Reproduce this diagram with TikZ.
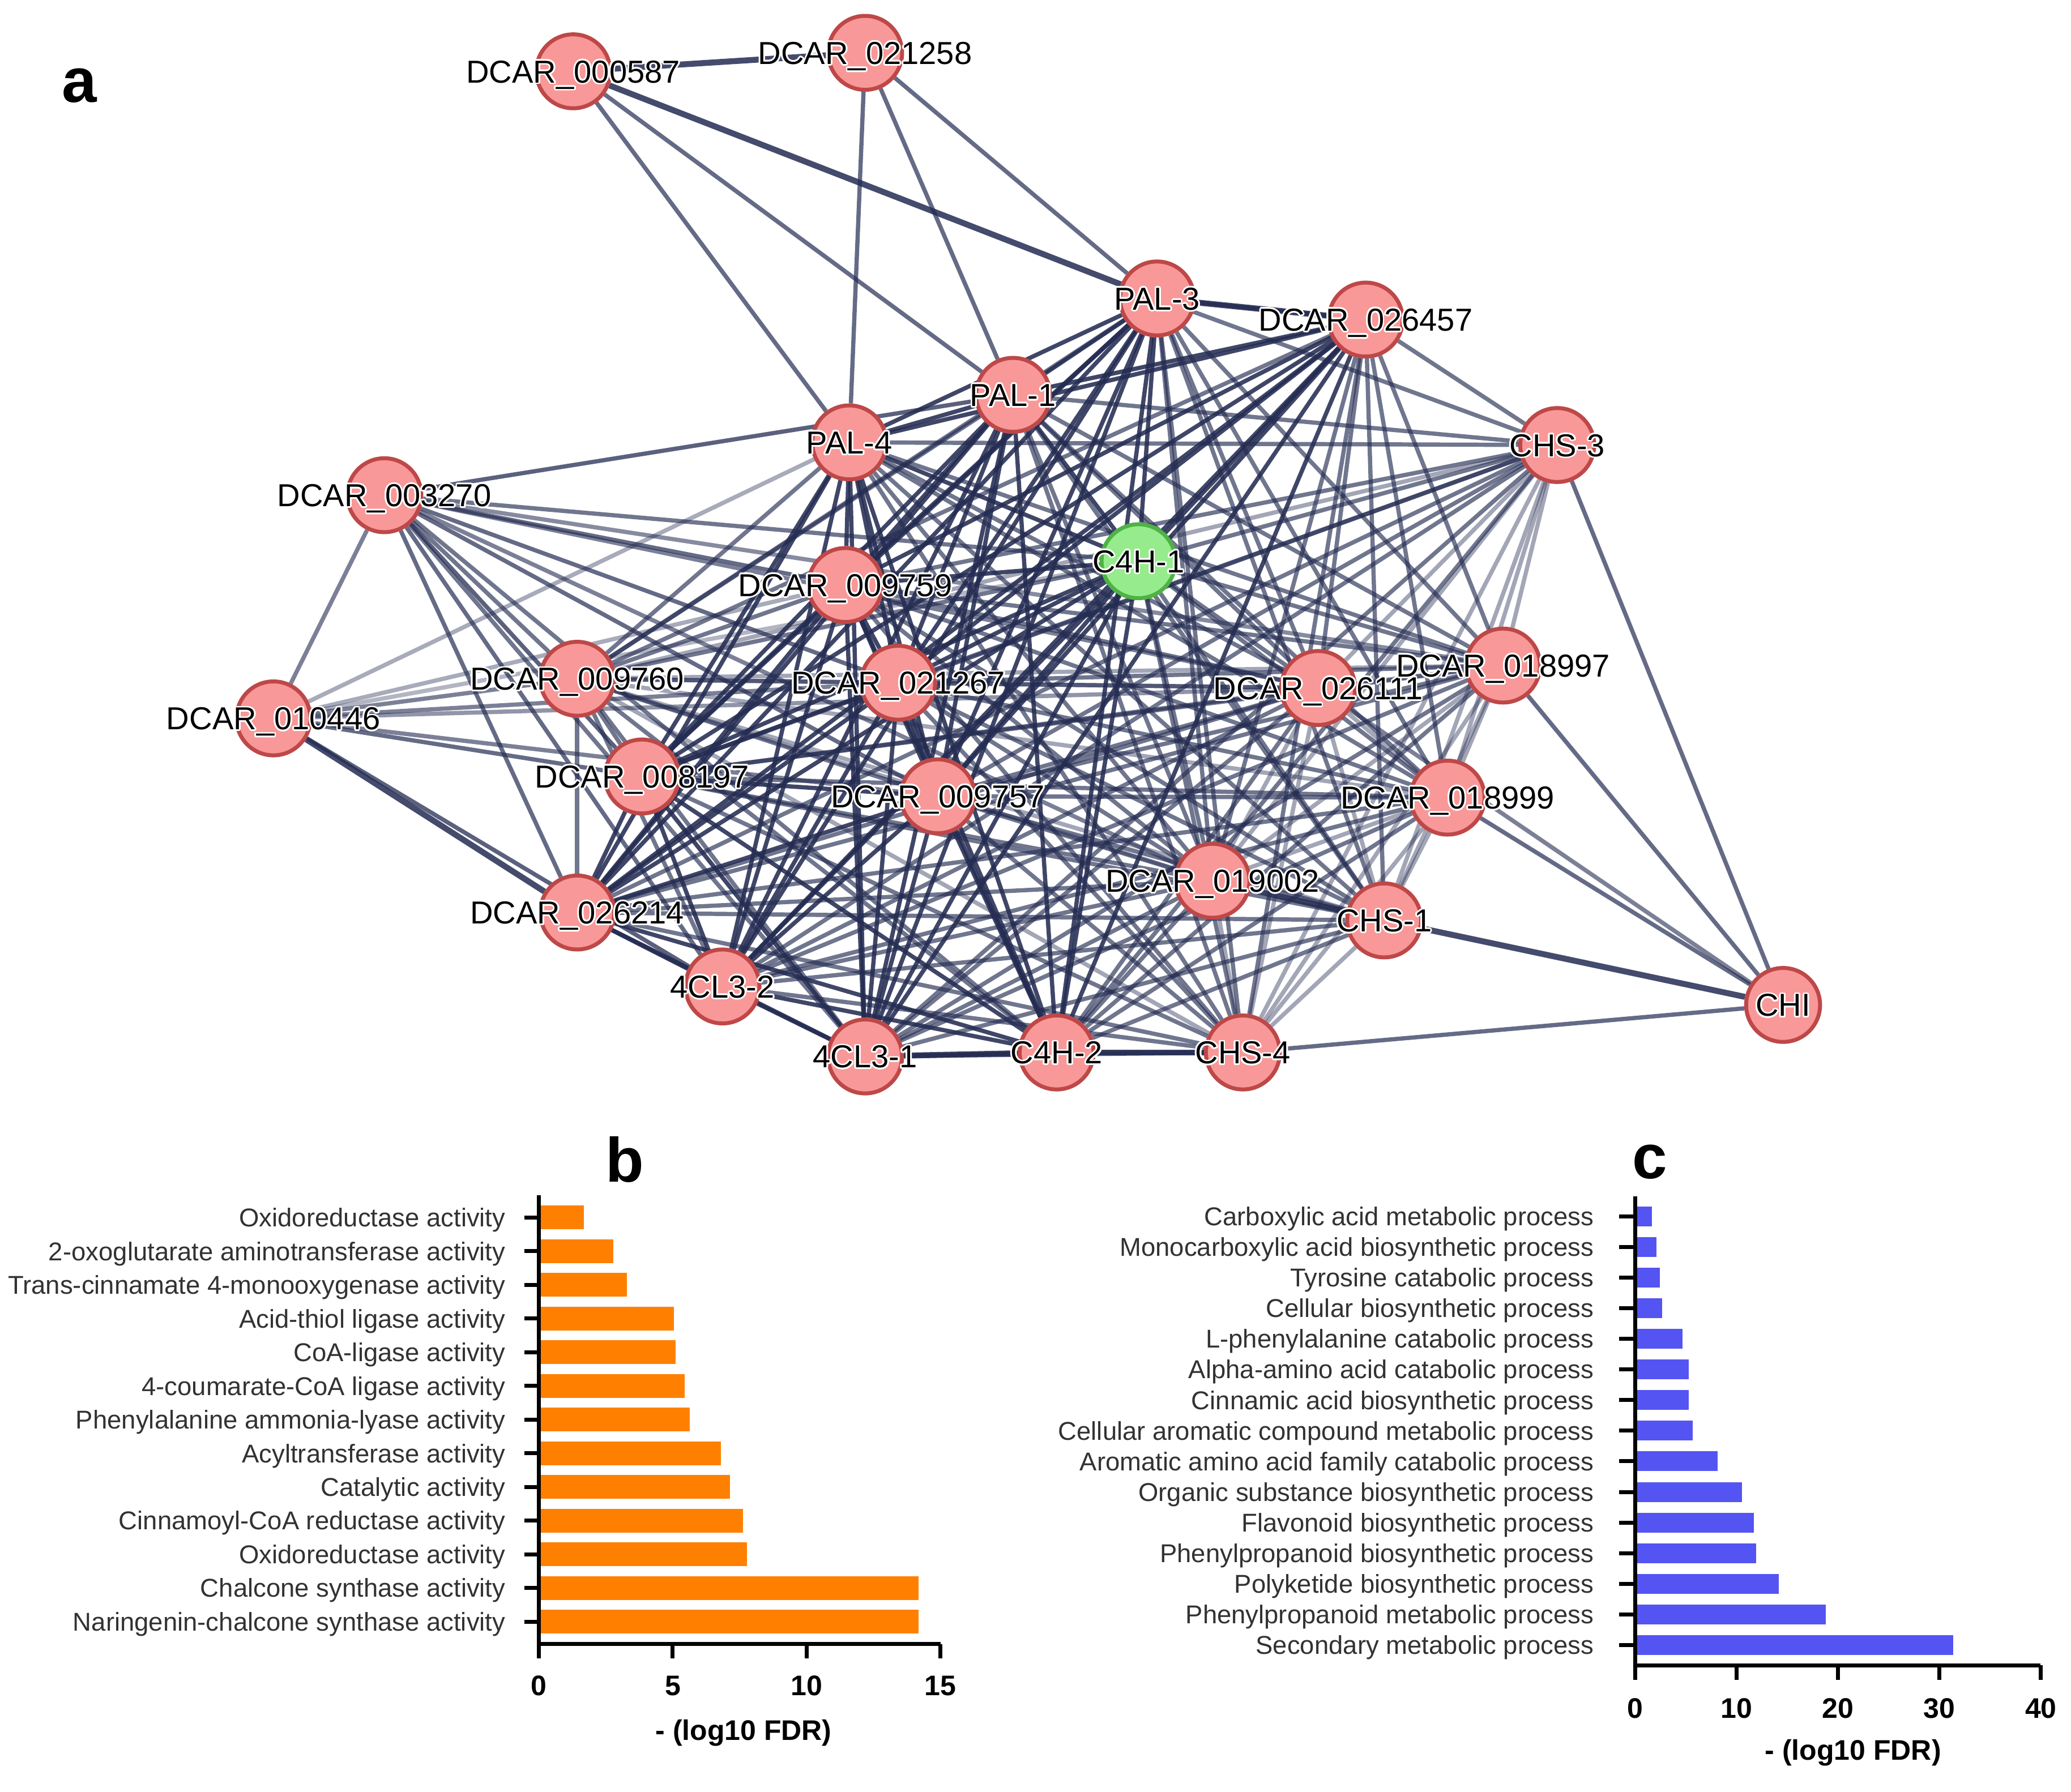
\documentclass[tikz,border=0pt]{standalone}
\usepackage{fontspec}
\setmainfont{Liberation Sans}
\usepackage{contour}
\contourlength{0.7pt}
\usetikzlibrary{backgrounds}

\definecolor{edgeblue}{RGB}{36,44,82}
\definecolor{genefill}{RGB}{249,152,152}
\definecolor{genedraw}{RGB}{190,72,72}
\definecolor{hubfill}{RGB}{150,236,140}
\definecolor{hubdraw}{RGB}{78,178,68}
\definecolor{barorange}{RGB}{255,128,0}
\definecolor{barblue}{RGB}{84,84,242}
\definecolor{labgray}{RGB}{50,50,50}

\tikzset{
  gene/.style={circle, draw=genedraw, fill=genefill, line width=0.06cm,
    minimum size=1.12cm, inner sep=0pt},
  hub/.style={gene, draw=hubdraw, fill=hubfill},
  glab/.style={font=\fontsize{13.7}{16}\selectfont, inner sep=0pt,
    text height=9.8pt, text depth=0pt},
  tie/.style={draw=edgeblue, line width=0.064cm},
  strongtie/.style={draw=edgeblue, line width=0.09cm, draw opacity=0.85},
  axisline/.style={line width=0.06cm, black},
  golab/.style={font=\fontsize{11.1}{13}\selectfont, text=labgray, inner sep=0pt},
  ticklab/.style={font=\bfseries\fontsize{12.2}{14}\selectfont, inner sep=0pt},
  panel/.style={font=\bfseries\fontsize{27}{30}\selectfont, inner sep=0pt},
}
\newcommand{\gname}[1]{\contour{white}{#1}}

\begin{document}
\begin{tikzpicture}[x=0.02cm, y=-0.02cm]
\useasboundingbox (0,0) rectangle (1568,1357);

% panel a: network
\node[panel] (pa) at (60,65) {a};

\node[gene, label={[glab]center:\gname{DCAR\_000587}}] (d0587) at (434,54) {};
\node[gene, label={[glab]center:\gname{DCAR\_021258}}] (d1258) at (655,40) {};
\node[gene, label={[glab]center:\gname{PAL-3}}] (pal3) at (876,226) {};
\node[gene, label={[glab]center:\gname{DCAR\_026457}}] (d6457) at (1034,242) {};
\node[gene, label={[glab]center:\gname{PAL-1}}] (pal1) at (767,299) {};
\node[gene, label={[glab]center:\gname{PAL-4}}] (pal4) at (643,335) {};
\node[gene, label={[glab]center:\gname{CHS-3}}] (chs3) at (1179,337) {};
\node[gene, label={[glab]center:\gname{DCAR\_003270}}] (d3270) at (291,375) {};
\node[hub, label={[glab]center:\gname{C4H-1}}] (c4h1) at (862,425) {};
\node[gene, label={[glab]center:\gname{DCAR\_009759}}] (d9759) at (640,443) {};
\node[gene, label={[glab]center:\gname{DCAR\_009760}}] (d9760) at (437,514) {};
\node[gene, label={[glab]center:\gname{DCAR\_021267}}] (d1267) at (680,517) {};
\node[gene, label={[glab]center:\gname{DCAR\_026111}}] (d6111) at (998,521) {};
\node[gene, label={[glab]center:\gname{DCAR\_018997}}] (d8997) at (1138,504) {};
\node[gene, label={[glab]center:\gname{DCAR\_010446}}] (d0446) at (207,544) {};
\node[gene, label={[glab]center:\gname{DCAR\_008197}}] (d8197) at (486,588) {};
\node[gene, label={[glab]center:\gname{DCAR\_009757}}] (d9757) at (710,603) {};
\node[gene, label={[glab]center:\gname{DCAR\_018999}}] (d8999) at (1096,604) {};
\node[gene, label={[glab]center:\gname{DCAR\_019002}}] (d9002) at (918,667) {};
\node[gene, label={[glab]center:\gname{DCAR\_026214}}] (d6214) at (437,691) {};
\node[gene, label={[glab]center:\gname{CHS-1}}] (chs1) at (1048,697) {};
\node[gene, label={[glab]center:\gname{4CL3-2}}] (cl2) at (547,747) {};
\node[gene, label={[glab]center:\gname{CHI}}] (chi) at (1350,761) {};
\node[gene, label={[glab]center:\gname{4CL3-1}}] (cl1) at (655,800) {};
\node[gene, label={[glab]center:\gname{C4H-2}}] (c4h2) at (800,797) {};
\node[gene, label={[glab]center:\gname{CHS-4}}] (chs4) at (941,797) {};

% edges behind the genes
\def\corelist{pal3/1,d6457/1,pal1/1,pal4/1,chs3/0,c4h1/1,d9759/1,d9760/0,d1267/1,
  d6111/0,d8997/0,d8197/1,d9757/1,d8999/0,d9002/0,d6214/1,chs1/0,cl2/1,cl1/1,c4h2/1,chs4/0}
\begin{scope}[on background layer]
  \foreach \a/\ga [count=\i] in \corelist {
    \foreach \b/\gb [count=\j] in \corelist {
      \ifnum\j>\i
        \pgfmathsetmacro\op{0.42+0.23*(\ga+\gb)}
        \draw[tie, draw opacity=\op] (\a) -- (\b);
      \fi
    }
  }
  \foreach \a/\b/\o in {d0587/pal4/.7, d0587/pal1/.7, d1258/pal4/.7, d1258/pal1/.7,
      d1258/pal3/.7, chi/chs3/.7, chi/d8997/.7, chi/d8999/.7, chi/d6111/.6, chi/chs4/.7,
      d3270/d0446/.6, d3270/pal1/.75, d3270/c4h1/.65, d3270/d9759/.7, d3270/d1267/.7,
      d3270/d6111/.6, d3270/d8997/.55, d3270/d9757/.7, d3270/d9760/.65, d3270/d8197/.75,
      d3270/d6214/.7, d3270/cl2/.7, d3270/cl1/.65, d3270/c4h2/.65, d3270/d9002/.6,
      d0446/pal4/.4, d0446/d9759/.4, d0446/c4h1/.35, d0446/d9760/.6, d0446/d1267/.6,
      d0446/d8197/.7, d0446/d9757/.6, d0446/cl2/.75, d0446/d6111/.5}
    \draw[tie, draw opacity=\o] (\a) -- (\b);
  \foreach \a/\b in {d0587/d1258, d0587/pal3, chi/chs1, c4h2/chs4, cl1/c4h2,
      d9002/chs1, pal3/d6457, d0446/d6214}
    \draw[strongtie] (\a) -- (\b);
\end{scope}

% panel b: molecular function
\node[panel] (pb) at (473,878) {b};
\foreach \v/\t [count=\k] in {1.68/Oxidoreductase activity,
    2.77/2-oxoglutarate aminotransferase activity,
    3.28/Trans-cinnamate 4-monooxygenase activity,
    5.05/Acid-thiol ligase activity, 5.10/CoA-ligase activity,
    5.45/4-coumarate-CoA ligase activity, 5.64/Phenylalanine ammonia-lyase activity,
    6.80/Acyltransferase activity, 7.13/Catalytic activity,
    7.62/Cinnamoyl-CoA reductase activity, 7.78/Oxidoreductase activity,
    14.19/Chalcone synthase activity, 14.19/Naringenin-chalcone synthase activity} {
  \pgfmathsetmacro\yy{922+25.5*(\k-1)}
  \fill[barorange] (408,\yy-9) rectangle ({408+20.27*\v},\yy+9);
  \draw[axisline] (397,\yy) -- (408,\yy);
  \node[golab, anchor=base east] (gb\k) at (383,\yy+7) {\t};
}
\draw[axisline] (408,905) -- (408,1245) -- (712,1245);
\foreach \s in {0,5,10,15} {
  \draw[axisline] ({408+20.27*\s},1245) -- ({408+20.27*\s},1256);
  \node[ticklab, anchor=base] (tb\s) at ({408+20.27*\s},1284) {\s};
}
\node[ticklab, anchor=base] (xb) at (563,1318) {- (log10 FDR)};

% panel c: biological process
\node[panel] (pc) at (1249,880) {c};
\foreach \v/\t [count=\k] in {1.64/Carboxylic acid metabolic process,
    2.09/Monocarboxylic acid biosynthetic process, 2.42/Tyrosine catabolic process,
    2.68/Cellular biosynthetic process, 4.65/L-phenylalanine catabolic process,
    5.30/Alpha-amino acid catabolic process, 5.30/Cinnamic acid biosynthetic process,
    5.70/Cellular aromatic compound metabolic process,
    8.12/Aromatic amino acid family catabolic process,
    10.54/Organic substance biosynthetic process, 11.72/Flavonoid biosynthetic process,
    11.91/Phenylpropanoid biosynthetic process, 14.14/Polyketide biosynthetic process,
    18.79/Phenylpropanoid metabolic process, 31.36/Secondary metabolic process} {
  \pgfmathsetmacro\yy{921+23.2*(\k-1)}
  \fill[barblue] (1238,\yy-7.5) rectangle ({1238+7.68*\v},\yy+7.5);
  \draw[axisline] (1226,\yy) -- (1238,\yy);
  \node[golab, anchor=base east] (gc\k) at (1207,\yy+7) {\t};
}
\draw[axisline] (1238,906) -- (1238,1261) -- (1545,1261);
\foreach \s in {0,10,20,30,40} {
  \draw[axisline] ({1238+7.68*\s},1261) -- ({1238+7.68*\s},1272);
  \node[ticklab, anchor=base] (tc\s) at ({1238+7.68*\s},1301) {\s};
}
\node[ticklab, anchor=base] (xc) at (1403,1333) {- (log10 FDR)};
\end{tikzpicture}
\end{document}
